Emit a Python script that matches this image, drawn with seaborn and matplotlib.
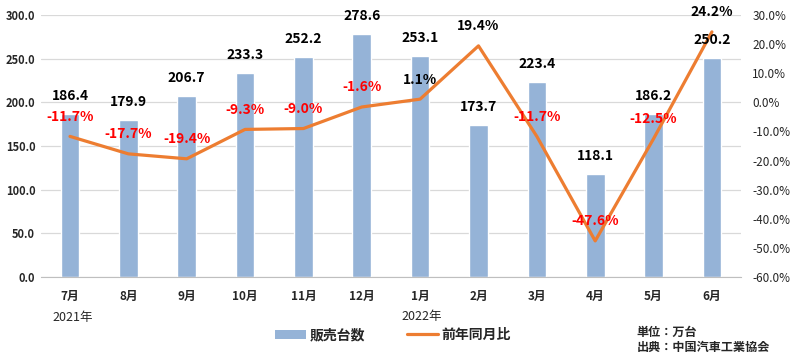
import numpy as np
import pandas as pd
import seaborn as sns
import matplotlib.pyplot as plt
from matplotlib.patches import Patch
from matplotlib.lines import Line2D
from matplotlib.ticker import FuncFormatter, MultipleLocator

# datos
months = ["7月", "8月", "9月", "10月", "11月", "12月",
          "1月", "2月", "3月", "4月", "5月", "6月"]
sales = [186.4, 179.9, 206.7, 233.3, 252.2, 278.6,
         253.1, 173.7, 223.4, 118.1, 186.2, 250.2]
yoy = [-11.7, -17.7, -19.4, -9.3, -9.0, -1.6,
       1.1, 19.4, -11.7, -47.6, -12.5, 24.2]
years = ["2021年", "2022年"]
legend_labels = ["販売台数", "前年同月比"]
notes = ["単位：万台", "出典：中国汽車工業協会"]

BAR_COLOR = "#95B3D7"
LINE_COLOR = "#ED7D31"

sns.set_style("white")
plt.rcParams['font.family'] = ['Noto Sans CJK JP', 'DejaVu Sans']

df = pd.DataFrame({"month": months, "sales": sales, "yoy": yoy})

fig = plt.figure(figsize=(7.91, 3.53), dpi=100)
ax = fig.add_axes([0.0516, 0.2153, 0.8853, 0.7422])

sns.barplot(data=df, x="month", y="sales", order=months, color=BAR_COLOR,
            width=0.32, saturation=1, ax=ax)
ax.set_ylim(0, 300)
ax.set_xlim(-0.5, len(months) - 0.5)
ax.yaxis.set_major_locator(MultipleLocator(50))
ax.yaxis.set_major_formatter(FuncFormatter(lambda v, p: f"{v:.1f}"))
ax.grid(axis="y", color="#D9D9D9", linewidth=0.9)
ax.set_axisbelow(True)
ax.set_xlabel("")
ax.set_ylabel("")
for s in ["top", "left", "right"]:
    ax.spines[s].set_visible(False)
ax.spines["bottom"].set_color("#BFBFBF")
ax.tick_params(axis="y", length=0, labelsize=8, pad=4)
ax.tick_params(axis="x", which="major", length=0, labelsize=8.5, pad=9)
ax.set_xticks(np.arange(-0.5, len(months), 1), minor=True)
ax.tick_params(axis="x", which="minor", length=4, color="#BFBFBF", direction="out")
for lbl in ax.get_xticklabels() + ax.get_yticklabels():
    lbl.set_fontweight("bold")

ax2 = ax.twinx()
sns.pointplot(data=df, x="month", y="yoy", order=months, color=LINE_COLOR,
              markers="", linewidth=2.3, ax=ax2)
ax2.set_ylim(-60, 30)
ax2.set_xlim(-0.5, len(months) - 0.5)
ax2.yaxis.set_major_locator(MultipleLocator(10))
ax2.yaxis.set_major_formatter(FuncFormatter(lambda v, p: f"{v:.1f}%"))
ax2.tick_params(axis="y", length=0, labelsize=8.5, pad=8)
ax2.set_ylabel("")
for s in ax2.spines.values():
    s.set_visible(False)

# etiquetas de valores
for i, v in enumerate(sales):
    ax2.annotate(f"{v:.1f}", xy=(i, v), xycoords=ax.transData,
                 xytext=(0, 8), textcoords="offset points",
                 ha="center", va="bottom", fontsize=10, fontweight="bold",
                 color="black")
for i, v in enumerate(yoy):
    ax2.annotate(f"{v:.1f}%", xy=(i, v), xytext=(0, 9), textcoords="offset points",
                 ha="center", va="bottom", fontsize=10, fontweight="bold",
                 color="#FF0000" if v < 0 else "black")

fig.text(0.066, 0.090, years[0], fontsize=9)
fig.text(0.508, 0.094, years[1], fontsize=9)

handles = [Patch(facecolor=BAR_COLOR, edgecolor="none"),
           Line2D([0], [0], color=LINE_COLOR, linewidth=2.3)]
fig.legend(handles, legend_labels, loc="center", bbox_to_anchor=(0.497, 0.05),
           ncol=2, frameon=False, prop={"size": 10, "weight": "bold"},
           handlelength=2.2, columnspacing=3.0, handletextpad=0.3)

fig.text(0.805, 0.057, notes[0], fontsize=8.7, fontweight="bold", va="center")
fig.text(0.805, 0.017, notes[1], fontsize=8.7, fontweight="bold", va="center")

plt.savefig("out.png", dpi=100)
